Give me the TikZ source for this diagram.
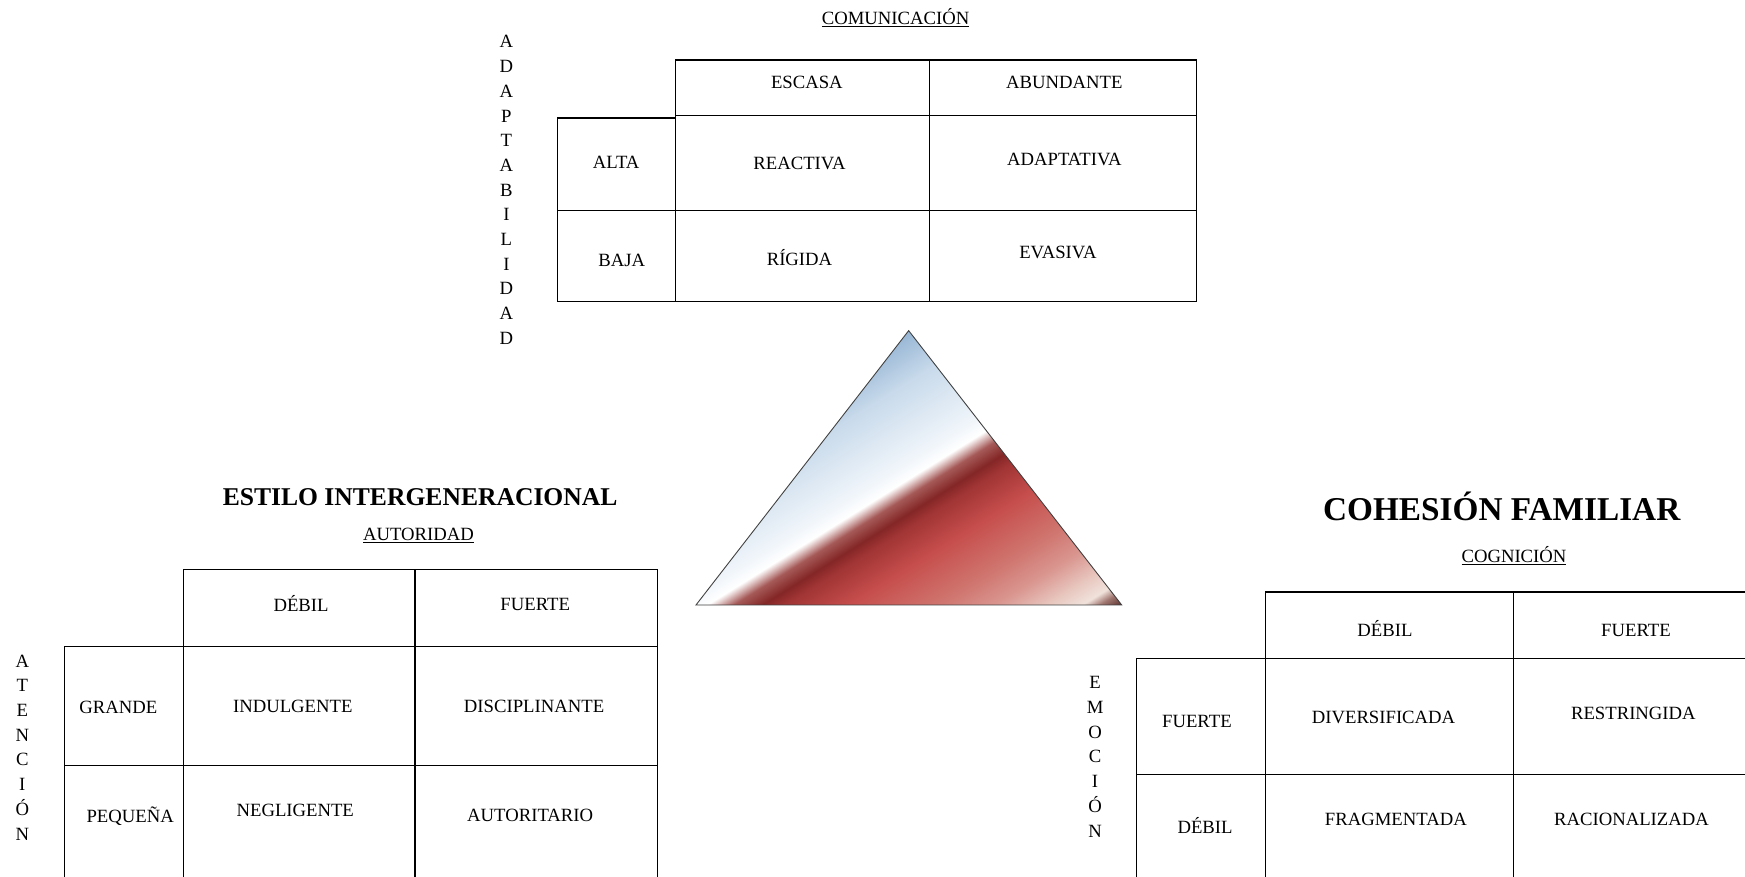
\documentclass[tikz,border=0pt]{standalone}
\usepackage{fontspec}
\setmainfont{Liberation Serif}
\usepackage{tikz}
\usetikzlibrary{positioning}

% --- Colours of the triangle ---
\definecolor{triDark}{RGB}{92,52,48}
\definecolor{triDusk}{RGB}{160,118,112}
\definecolor{triPale}{RGB}{240,226,219}
\definecolor{triBlush}{RGB}{232,200,192}
\definecolor{triPink}{RGB}{218,150,144}
\definecolor{triRose}{RGB}{208,118,112}
\definecolor{triRed}{RGB}{198,78,76}
\definecolor{triWine}{RGB}{160,52,52}
\definecolor{triMaroon}{RGB}{132,38,38}
\definecolor{triBrown}{RGB}{165,90,88}
\definecolor{triIce}{RGB}{240,245,250}
\definecolor{triSky}{RGB}{200,218,235}
\definecolor{triSteel}{RGB}{132,168,204}
\pgfdeclareverticalshading{trishade}{100bp}{color(0bp)=(triDark); color(15.5bp)=(triDark); color(17.2bp)=(triDusk); color(18.6bp)=(triPale); color(21.3bp)=(triBlush); color(25.5bp)=(triPink); color(30bp)=(triRose); color(37.3bp)=(triRed); color(42.5bp)=(triWine); color(44.2bp)=(triMaroon); color(46.5bp)=(triBrown); color(48.6bp)=(white); color(51bp)=(triIce); color(61bp)=(triSky); color(70bp)=(triSteel); color(100bp)=(triSteel)}

\begin{document}
\begin{tikzpicture}[
    x=1pt, y=-1pt,
    cell/.style={font=\fontsize{16.8}{20}\selectfont, inner sep=0pt, text height=11.1pt, text depth=0pt},
    head/.style={cell, font=\bfseries\fontsize{23}{26}\selectfont, text height=15.2pt},
    bighead/.style={cell, font=\bfseries\fontsize{29.9}{33}\selectfont, text height=19.8pt},
    vword/.style={font=\fontsize{16.8}{22.2}\selectfont, align=center, inner sep=0pt},
    grid/.style={draw=black, line width=1.1pt}
]
    \fill[white] (0,0) rectangle (1568,788);
    \useasboundingbox (0,0) rectangle (1568,788);

    % --- Top table: adaptability vs communication ---
    \draw[grid] (607,54) rectangle (1075,271);
    \draw[grid] (607,104) -- (1075,104);
    \draw[grid] (835,54) -- (835,271);
    \draw[grid] (501,106) rectangle (607,271);
    \draw[grid] (501,189) -- (1075,189);

    \node[cell] (comun) at (804.7,16.5) {\underline{COMUNICACIÓN}};
    \node[cell] (escasa) at (725,74.3) {ESCASA};
    \node[cell] (abund) at (956.4,74.3) {ABUNDANTE};
    \node[cell] (alta) at (553.6,145.9) {ALTA};
    \node[cell] (reactiva) at (718.4,146.8) {REACTIVA};
    \node[cell] (adaptativa) at (956.4,142.9) {ADAPTATIVA};
    \node[cell] (baja) at (558.6,234.2) {BAJA};
    \node[cell] (rigida) at (718.4,233) {RÍGIDA};
    \node[cell] (evasiva) at (950.6,226.7) {EVASIVA};
    \node[vword] (adapt) at (455,170.7) {A\\D\\A\\P\\T\\A\\B\\I\\L\\I\\D\\A\\D};

    % --- Triangle ---
    \coordinate (apex) at (816.5,297.1);
    \coordinate (baseR) at (1007.9,543.6);
    \coordinate (baseL) at (625.4,543.6);
    \shade[shading=trishade, shading angle=32, draw=black!75, line width=0.8pt]
        (apex) -- (baseR) -- (baseL) -- cycle;

    % --- Left table: attention vs authority ---
    \draw[grid] (165,788) -- (165,512) -- (591,512) -- (591,788);
    \draw[grid] (373,512) -- (373,788);
    \draw[grid] (58,788) -- (58,581) -- (591,581);
    \draw[grid] (58,688) -- (591,688);

    \node[head] (estilo) at (377.5,446.3) {ESTILO INTERGENERACIONAL};
    \node[cell] (autor) at (376,480.1) {\underline{AUTORIDAD}};
    \node[cell] (debilA) at (270.5,543.6) {DÉBIL};
    \node[cell] (fuerteA) at (480.9,542.7) {FUERTE};
    \node[cell] (grande) at (106.4,635.6) {GRANDE};
    \node[cell] (indul) at (263.1,634.4) {INDULGENTE};
    \node[cell] (discip) at (479.9,634.4) {DISCIPLINANTE};
    \node[cell] (pequena) at (117,733.9) {PEQUEÑA};
    \node[cell] (neglig) at (265.3,727.8) {NEGLIGENTE};
    \node[cell] (autorit) at (476.4,732.3) {AUTORITARIO};
    \node[vword] (atencion) at (20,671.6) {A\\T\\E\\N\\C\\I\\Ó\\N};

    % --- Right table: emotion vs cognition ---
    \draw[grid] (1137,788) -- (1137,532) -- (1568,532);
    \draw[grid] (1360,532) -- (1360,788);
    \draw[grid] (1021,788) -- (1021,592) -- (1568,592);
    \draw[grid] (1021,696) -- (1568,696);

    \node[bighead] (cohesion) at (1349.4,457.7) {COHESIÓN FAMILIAR};
    \node[cell] (cogni) at (1360.4,499.6) {\underline{COGNICIÓN}};
    \node[cell] (debilC) at (1244.5,566.7) {DÉBIL};
    \node[cell] (fuerteC) at (1470,566.7) {FUERTE};
    \node[cell] (fuerteE) at (1075.5,648.5) {FUERTE};
    \node[cell] (divers) at (1243.2,644.6) {DIVERSIFICADA};
    \node[cell] (restr) at (1467.7,641) {RESTRINGIDA};
    \node[cell] (debilE) at (1082.8,743.7) {DÉBIL};
    \node[cell] (fragm) at (1254.3,736.2) {FRAGMENTADA};
    \node[cell] (racion) at (1466,736.2) {RACIONALIZADA};
    \node[vword] (emocion) at (984,680) {E\\M\\O\\C\\I\\Ó\\N};
\end{tikzpicture}
\end{document}
